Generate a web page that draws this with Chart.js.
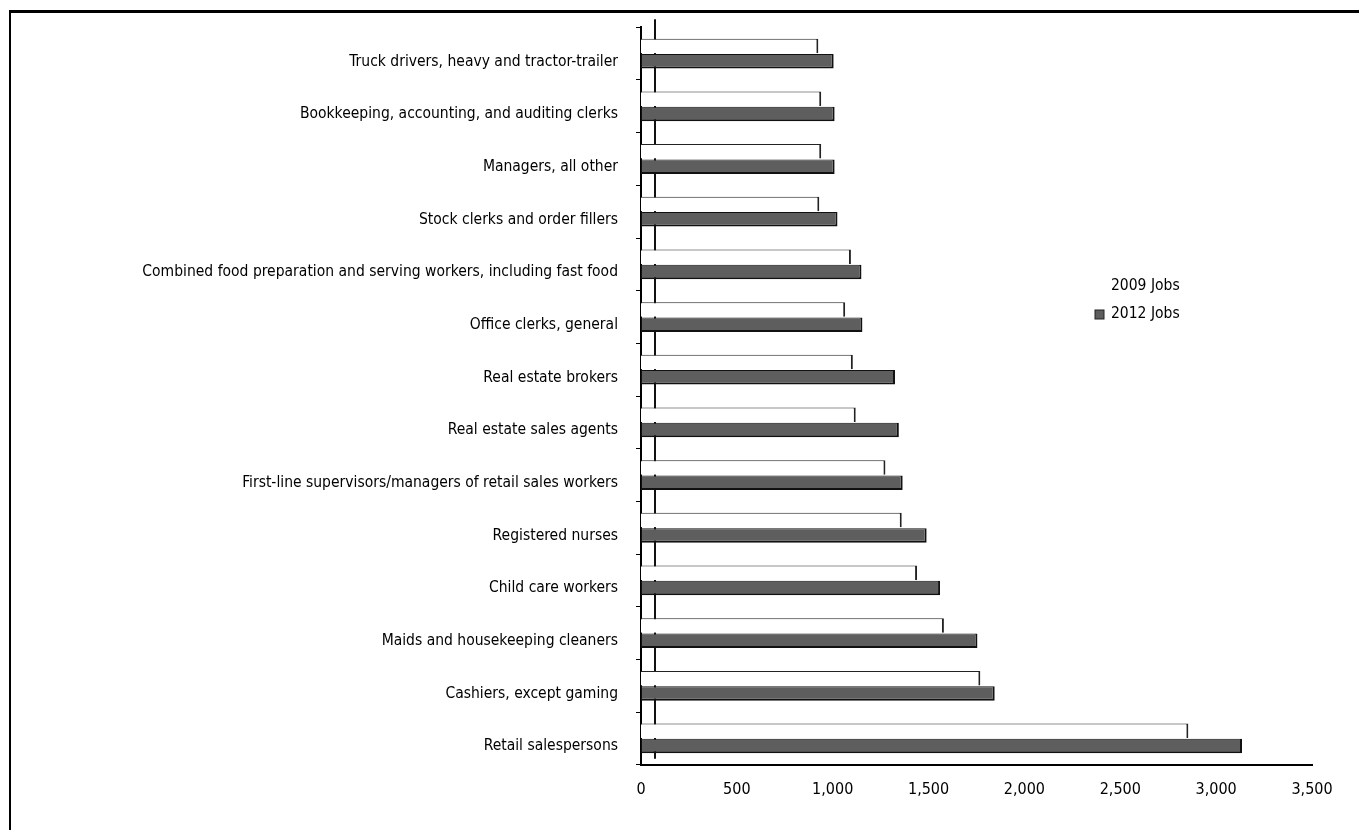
<!DOCTYPE html>
<html>
<head>
<meta charset="utf-8">
<script src="https://cdn.jsdelivr.net/npm/chart.js@4.4.1/dist/chart.umd.min.js"></script>
<style>
  html, body { margin: 0; padding: 0; background: #fff; }
  #wrap { position: relative; width: 1359px; height: 830px; }
  #frame {
    position: absolute; left: 9px; top: 10px; right: 0; bottom: 0;
    border-top: 3px solid #000; border-left: 2px solid #000;
    pointer-events: none;
  }
</style>
</head>
<body>
<div id="wrap">
  <canvas id="jobsChart" width="1359" height="830"></canvas>
  <div id="frame"></div>
</div>
<script>
// occupations, top to bottom as in the picture
const occupations = [
  "Truck drivers, heavy and tractor-trailer",
  "Bookkeeping, accounting, and auditing clerks",
  "Managers, all other",
  "Stock clerks and order fillers",
  "Combined food preparation and serving workers, including fast food",
  "Office clerks, general",
  "Real estate brokers",
  "Real estate sales agents",
  "First-line supervisors/managers of retail sales workers",
  "Registered nurses",
  "Child care workers",
  "Maids and housekeeping cleaners",
  "Cashiers, except gaming",
  "Retail salespersons",
];

const jobs2009 = [925, 940, 940, 930, 1095, 1065, 1105, 1120, 1275, 1360, 1440, 1580, 1770, 2855];
const jobs2012 = [1005, 1010, 1010, 1025, 1150, 1155, 1325, 1345, 1365, 1490, 1560, 1755, 1845, 3135];

const xTicks = [0, 500, 1000, 1500, 2000, 2500, 3000, 3500];

const FONT = '"Liberation Sans Narrow", "DejaVu Sans Condensed", "Roboto Condensed", sans-serif';

// legend drawn inside the plot, to the right (like the original)
const sideLegend = {
  id: "sideLegend",
  afterDraw(chart) {
    const ctx = chart.ctx;
    const x = 1095, y0 = 286, gap = 28;
    ctx.save();
    ctx.font = "15.5px " + FONT;
    ctx.textBaseline = "middle";
    chart.data.datasets.forEach((ds, i) => {
      const y = y0 + i * gap;
      if (ds.backgroundColor !== "#ffffff") {
        ctx.fillStyle = ds.backgroundColor;
        ctx.fillRect(x, y - 4, 9, 9);
        ctx.strokeStyle = "#222";
        ctx.lineWidth = 1;
        ctx.strokeRect(x, y - 4, 9, 9);
      }
      ctx.fillStyle = "#000";
      ctx.fillText(ds.label, x + 16, y);
    });
    ctx.restore();
  },
};

// the back-wall edge of the 3d original, a thin line just right of the axis
const wallLine = {
  id: "wallLine",
  beforeDatasetsDraw(chart) {
    const { ctx, chartArea, scales } = chart;
    const x = scales.x.getPixelForValue(0) + 14;
    ctx.save();
    ctx.strokeStyle = "#111";
    ctx.lineWidth = 2;
    ctx.beginPath();
    ctx.moveTo(x, chartArea.top - 8);
    ctx.lineTo(x, chartArea.bottom - 6);
    ctx.stroke();
    ctx.restore();
  },
};

new Chart(document.getElementById("jobsChart"), {
  type: "bar",
  data: {
    labels: occupations,
    datasets: [
      {
        label: "2009 Jobs",
        data: jobs2009,
        backgroundColor: "#ffffff",
        borderColor: "#222",
        borderWidth: { top: 1, right: 2, bottom: 0, left: 0 },
        borderSkipped: false,
      },
      {
        label: "2012 Jobs",
        data: jobs2012,
        backgroundColor: "#5e5e5e",
        borderColor: "#111",
        borderWidth: { top: 1, right: 2, bottom: 2, left: 1 },
        borderSkipped: false,
      },
    ],
  },
  options: {
    indexAxis: "y",
    responsive: false,
    animation: false,
    devicePixelRatio: 1,
    layout: { padding: { top: 27, right: 47, bottom: 24, left: 0 } },
    datasets: { bar: { categoryPercentage: 0.58, barPercentage: 0.95 } },
    plugins: {
      legend: { display: false },
      tooltip: { enabled: false },
    },
    scales: {
      x: {
        min: 0,
        max: 3500,
        afterBuildTicks(scale) {
          scale.ticks = xTicks.map((v) => ({ value: v }));
        },
        grid: { display: false },
        border: { display: true, color: "#000", width: 2 },
        ticks: {
          color: "#000",
          padding: 7,
          font: { family: FONT, size: 16 },
          callback: (v) => v.toLocaleString("en-US"),
        },
      },
      y: {
        afterFit(scale) {
          scale.width = 641;
        },
        grid: {
          drawOnChartArea: false,
          color: "#000",
          tickLength: 5,
          lineWidth: 1,
        },
        border: { display: true, color: "#000", width: 2 },
        ticks: {
          color: "#000",
          padding: 18,
          labelOffset: 8,
          font: { family: FONT, size: 15.5 },
        },
      },
    },
  },
  plugins: [wallLine, sideLegend],
});
</script>
</body>
</html>
